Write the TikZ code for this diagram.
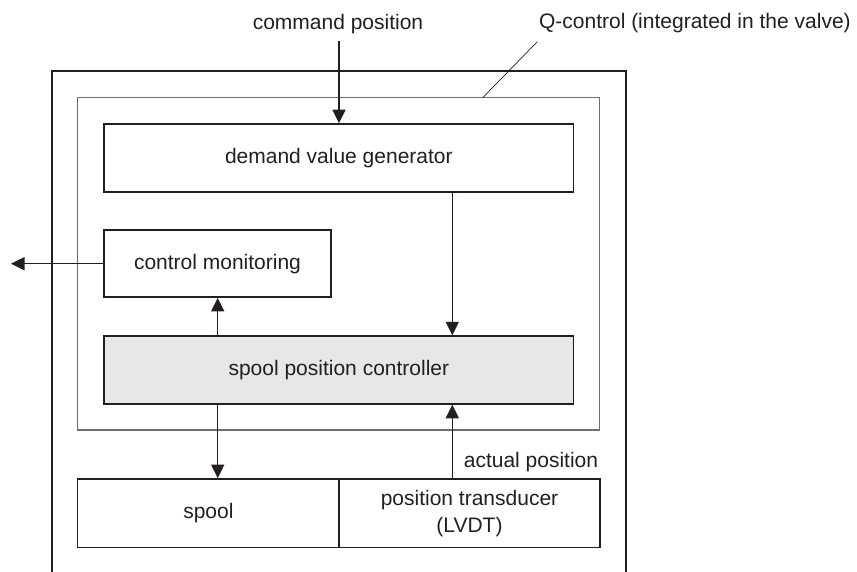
\documentclass[tikz,border=0pt]{standalone}
\usepackage{fontspec}
\setmainfont{Liberation Sans}
\usetikzlibrary{arrows.meta}
\definecolor{ink}{HTML}{231F20}
\definecolor{shade}{HTML}{E6E7E8}
\definecolor{frameline}{HTML}{6D6E71}
\begin{document}
\begin{tikzpicture}[x=1pt,y=-1pt,
  font=\fontsize{21}{26}\selectfont,
  every node/.style={text=ink},
  block/.style={draw=ink,line width=1.5pt,inner sep=0pt,align=center},
  arr/.style={draw=ink,line width=1.4pt,-{Triangle[length=13.5pt,width=13pt]}},
  lbl/.style={inner sep=0pt}]
\useasboundingbox (0,0) rectangle (857,572);

% valve housing, open at the bottom
\draw[ink,line width=2.2pt] (51.7,572) -- (51.7,71) -- (625.7,71) -- (625.7,572);

% Q-control frame
\draw[frameline,line width=1.1pt] (77.7,97.7) rectangle (599.7,430);

% function blocks
\node[block,minimum width=469.7pt,minimum height=68pt] (demand) at (338.85,158) {demand value generator};
\node[block,minimum width=227pt,minimum height=67pt] (monitor) at (217.5,263.7) {control monitoring};
\node[block,fill=shade,minimum width=469.7pt,minimum height=68pt] (ctrl) at (338.85,370) {spool position controller};
\node[block,minimum width=261.3pt,minimum height=68.7pt] (spool) at (208.35,513.3) {spool};
\node[block,minimum width=261pt,minimum height=68.7pt] (lvdt) at (469.5,513.3) {position transducer\\[1pt](LVDT)};

% labels
\node[lbl] (cmd) at (338,24) {command position};
\node[lbl] (qlabel) at (694.9,23) {Q-control (integrated in the valve)};
\node[lbl] (actual) at (531,462) {actual position};

% signal lines
\coordinate (xl) at (217.7,0);
\coordinate (xr) at (452.3,0);
\coordinate (cmdin) at (339,41);
\coordinate (out) at (11,263.7);
\coordinate (qframe) at (482.7,97.7);
\coordinate (qtip) at (537.3,41.7);

\draw[arr] (cmdin) -- (cmdin |- demand.north);
\draw[arr] (demand.south -| xr) -- (ctrl.north -| xr);
\draw[arr] (ctrl.north -| xl) -- (monitor.south -| xl);
\draw[arr] (ctrl.south -| xl) -- (spool.north -| xl);
\draw[arr] (lvdt.north -| xr) -- (ctrl.south -| xr);
\draw[arr] (monitor.west) -- (out);

% leader to the Q-control label
\draw[ink,line width=0.7pt] (qframe) -- (qtip);
\end{tikzpicture}
\end{document}
